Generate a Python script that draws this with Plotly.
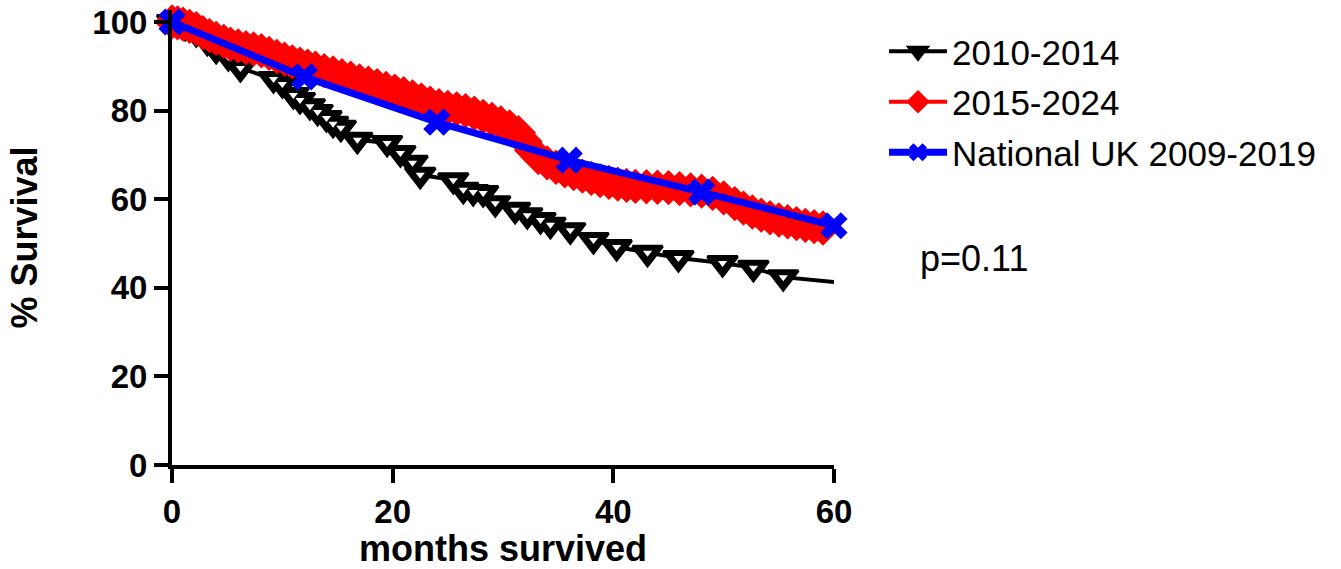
import plotly.graph_objects as go

# ---- data ----
months_2010 = [0, 1.2, 2.2, 3.2, 4.0, 5.1, 6.2, 9.2, 10.0, 11.0, 11.6, 12.5, 13.2, 14.0,
               14.6, 15.3, 16.8, 19.5, 20.7, 21.8, 22.5, 25.5, 26.4, 27.3, 28.2, 29.3,
               31.1, 32.2, 33.4, 34.3, 36.1, 38.2, 40.3, 43.1, 45.9, 49.9, 52.7, 55.4, 60]
surv_2010 = [100, 98.9, 97.5, 95.5, 93.7, 92.1, 89.6, 87.1, 86.0, 83.5, 82.4, 81.0, 79.7, 78.3,
             77.0, 76.1, 73.4, 72.7, 70.4, 68.2, 65.5, 64.3, 62.1, 61.6, 61.4, 59.1,
             57.6, 56.4, 55.3, 54.2, 53.0, 50.8, 49.2, 47.9, 46.7, 45.6, 44.5, 42.4, 41.3]

months_2015 = [0.0, 0.5, 1.0, 1.6, 2.2, 2.8, 3.4, 4.0, 4.7, 5.3, 6.0, 6.7, 7.4, 8.1, 8.8, 9.5,
               10.2, 10.9, 11.6, 12.3, 13.0, 13.8, 14.6, 15.4, 16.2, 17.0, 17.8, 18.6, 19.4,
               20.2, 21.0, 21.8, 22.6, 23.4, 24.2, 25.0, 25.8, 26.6, 27.4, 28.2, 29.0, 29.8,
               30.6, 31.4, 32.0, 32.6, 33.2, 34.0, 34.8, 35.6, 36.4, 37.2, 38.0, 38.8, 39.6,
               40.4, 41.2, 42.0, 43.0, 44.0, 45.0, 46.0, 47.0, 48.0, 49.0, 50.0, 51.0, 51.8,
               52.6, 53.4, 54.2, 55.0, 55.8, 56.6, 57.4, 58.2, 59.0]
surv_2015 = [100, 99.8, 99.5, 99.0, 98.5, 97.6, 96.9, 96.3, 95.6, 95.0, 94.6, 94.2, 93.9, 93.5,
             92.9, 92.2, 91.6, 91.0, 90.5, 90.0, 89.6, 89.0, 88.5, 87.9, 87.3, 86.7, 86.2,
             85.6, 85.0, 84.4, 83.8, 83.1, 82.4, 81.7, 81.1, 80.7, 80.4, 80.0, 79.4, 78.7,
             78.0, 77.2, 76.3, 75.0, 73.0, 71.0, 69.4, 68.2, 67.2, 66.4, 65.8, 65.2, 64.7,
             64.2, 63.8, 63.4, 63.1, 62.9, 62.8, 62.7, 62.6, 62.4, 62.1, 61.8, 61.3, 60.3,
             59.0, 58.0, 57.1, 56.4, 55.8, 55.3, 54.9, 54.5, 54.1, 53.8, 53.5]

months_uk = [0, 12, 24, 36, 48, 60]
surv_uk = [100, 87.6, 77.4, 68.8, 61.6, 54.0]

series_names = ["2010-2014", "2015-2024", "National UK 2009-2019"]
x_ticks = [0, 20, 40, 60]
y_ticks = [0, 20, 40, 60, 80, 100]
x_title = "months survived"
y_title = "% Survival"
p_text = "p=0.11"

# ---- figure ----
fig = go.Figure()

n_marked = len(months_2010) - 1  # last point (60 months) has no symbol
black_sizes = [26] * n_marked + [0]
fig.add_trace(go.Scatter(
    x=months_2010, y=surv_2010, mode="lines+markers", name=series_names[0],
    line=dict(color="black", width=4),
    marker=dict(symbol="triangle-down", size=black_sizes, sizemode="diameter", color="black",
                opacity=1, line=dict(width=3, color="black")),
    legendgroup="a", cliponaxis=False))
# small white holes of the open triangles
fig.add_trace(go.Scatter(
    x=months_2010[:n_marked], y=surv_2010[:n_marked], mode="markers", showlegend=False,
    hoverinfo="skip",
    marker=dict(symbol="triangle-down", size=8, color="white", opacity=1, line=dict(width=0)),
    legendgroup="a", cliponaxis=False))

fig.add_trace(go.Scatter(
    x=months_2015, y=surv_2015, mode="lines+markers", name=series_names[1],
    line=dict(color="red", width=4),
    marker=dict(symbol="diamond", size=25, color="red", opacity=1,
                line=dict(width=2, color="red")),
    legendgroup="b", cliponaxis=False))

fig.add_trace(go.Scatter(
    x=months_uk, y=surv_uk, mode="lines+markers", name=series_names[2],
    line=dict(color="blue", width=7),
    marker=dict(symbol="x", size=24, color="blue", opacity=1, line=dict(width=0)),
    legendgroup="c", cliponaxis=False))

fig.add_annotation(x=(918 - 172) / 662, y=(465 - 258) / 455, xref="paper", yref="paper",
                   text=p_text, showarrow=False, xanchor="left", yanchor="middle",
                   font=dict(family="Liberation Sans, Arial, sans-serif", size=36, color="black"))

tick_font = dict(family="Liberation Sans, Arial, sans-serif", size=33, color="black", weight="bold")
title_font = dict(family="Liberation Sans, Arial, sans-serif", size=36, color="black", weight="bold")

fig.update_layout(
    width=1341, height=569,
    margin=dict(l=172, r=507, t=10, b=104, autoexpand=False),
    paper_bgcolor="white", plot_bgcolor="white",
    showlegend=True,
    legend=dict(x=(884 - 172) / 662, y=(465 - 22) / 455, xanchor="left", yanchor="top",
                font=dict(family="Liberation Sans, Arial, sans-serif", size=35, color="black"),
                itemwidth=58, tracegroupgap=2, bgcolor="rgba(0,0,0,0)"),
    xaxis=dict(range=[0, 60], tickvals=x_ticks, ticktext=[str(v) for v in x_ticks],
               showgrid=False, zeroline=False, showline=True, linecolor="black", linewidth=4,
               ticks="outside", ticklen=14, tickwidth=4, tickcolor="black",
               tickfont=tick_font, automargin=False,
               title=dict(text=x_title, font=title_font, standoff=24)),
    yaxis=dict(range=[0, 102.7], tickvals=y_ticks, ticktext=[str(v) for v in y_ticks],
               showgrid=False, zeroline=False, showline=True, linecolor="black", linewidth=4,
               ticks="outside", ticklen=14, tickwidth=4, tickcolor="black",
               tickfont=tick_font, automargin=False,
               title=dict(text=y_title, font=title_font, standoff=45)),
)

fig.write_html("out.html")
